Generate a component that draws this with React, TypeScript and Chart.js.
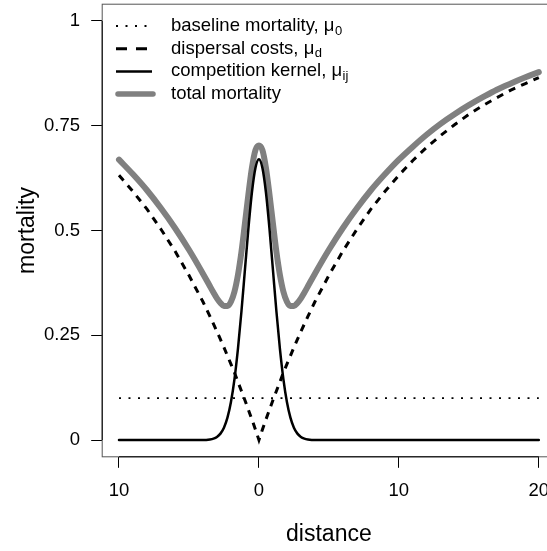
import React, { useEffect, useRef } from "react";
import { Chart, registerables } from "chart.js";

Chart.register(...registerables);

// ---- data ----
const distance = [
  -10, -9, -8, -7, -6, -5, -4,
  -3.5, -3.25, -3, -2.75, -2.5, -2.25, -2, -1.75, -1.5, -1.25, -1, -0.75, -0.5, -0.25,
  0,
  0.25, 0.5, 0.75, 1, 1.25, 1.5, 1.75, 2, 2.25, 2.5, 2.75, 3, 3.25, 3.5,
  4, 5, 6, 7, 8, 9, 10, 11, 12, 13, 14, 15, 16, 17, 18, 19, 20,
];

const dispersalCosts = [
  0.632, 0.593, 0.551, 0.503, 0.451, 0.393, 0.33,
  0.295, 0.277, 0.259, 0.24, 0.221, 0.201, 0.181, 0.161, 0.139, 0.117, 0.095, 0.072, 0.049, 0.025,
  0,
  0.025, 0.049, 0.072, 0.095, 0.117, 0.139, 0.161, 0.181, 0.201, 0.221, 0.24, 0.259, 0.277, 0.295,
  0.33, 0.393, 0.451, 0.503, 0.551, 0.593, 0.632, 0.667, 0.699, 0.727, 0.753, 0.777, 0.798, 0.817, 0.835, 0.85, 0.865,
];

const competitionKernel = [
  0, 0, 0, 0, 0, 0, 0,
  0.0015, 0.0034, 0.0074, 0.0153, 0.0294, 0.0533, 0.0907, 0.1449, 0.2175, 0.3067, 0.4064, 0.5057, 0.5913, 0.6494,
  0.67,
  0.6494, 0.5913, 0.5057, 0.4064, 0.3067, 0.2175, 0.1449, 0.0907, 0.0533, 0.0294, 0.0153, 0.0074, 0.0034, 0.0015,
  0, 0, 0, 0, 0, 0, 0, 0, 0, 0, 0, 0, 0, 0, 0, 0, 0,
];

const totalMortality = [
  0.669, 0.634, 0.596, 0.553, 0.506, 0.454, 0.397,
  0.367, 0.352, 0.338, 0.327, 0.32, 0.32, 0.33, 0.354, 0.394, 0.449, 0.517, 0.587, 0.65, 0.692,
  0.703,
  0.692, 0.65, 0.587, 0.517, 0.449, 0.394, 0.354, 0.33, 0.32, 0.32, 0.327, 0.338, 0.352, 0.367,
  0.397, 0.454, 0.506, 0.553, 0.596, 0.634, 0.669, 0.7, 0.729, 0.755, 0.778, 0.799, 0.818, 0.836, 0.851, 0.865, 0.878,
];

const baselineX = [-10, 20];
const baselineY = [0.1, 0.1];

const xTicks = [-10, 0, 10, 20];
const xTickLabels = ["10", "0", "10", "20"];
const yTicks = [0, 0.25, 0.5, 0.75, 1];
const yTickLabels = ["0", "0.25", "0.5", "0.75", "1"];

const legendLabels = ["baseline mortality, ", "dispersal costs, ", "competition kernel, ", "total mortality"];
const legendSubs = ["0", "d", "ij", ""];

const xTitle = "distance";
const yTitle = "mortality";

// ---- styles ----
const FONT = '"Liberation Sans", Arial, Helvetica, sans-serif';
const GRAY = "#808080";
const CURVE_DASH = [7, 6.5];
const DOT_DASH = [2, 7.5];

const pts = (xs: number[], ys: number[]) => xs.map((x, i) => ({ x, y: ys[i] }));

const decorPlugin = {
  id: "decor",
  afterDraw(chart: any) {
    const { ctx, chartArea: a, scales } = chart;
    const xs = scales.x;
    const ys = scales.y;
    ctx.save();
    // box
    ctx.strokeStyle = "#555";
    ctx.lineWidth = 1;
    ctx.strokeRect(a.left, a.top, a.right - a.left, a.bottom - a.top);
    // axis lines (tick range)
    ctx.strokeStyle = "#000";
    ctx.beginPath();
    ctx.moveTo(xs.getPixelForValue(xTicks[0]), a.bottom);
    ctx.lineTo(xs.getPixelForValue(xTicks[xTicks.length - 1]), a.bottom);
    ctx.moveTo(a.left, ys.getPixelForValue(yTicks[0]));
    ctx.lineTo(a.left, ys.getPixelForValue(yTicks[yTicks.length - 1]));
    ctx.stroke();

    // legend
    const lx0 = 116;
    const lx1 = 152;
    const tx = 171;
    const y0 = 26;
    const dy = 22.7;
    const styles = [
      { color: "#000", width: 1.8, dash: DOT_DASH, cap: "butt" },
      { color: "#000", width: 3, dash: [11, 9], cap: "butt" },
      { color: "#000", width: 2.5, dash: [], cap: "butt" },
      { color: GRAY, width: 5.5, dash: [], cap: "round" },
    ];
    legendLabels.forEach((label, i) => {
      const y = y0 + i * dy;
      const s = styles[i];
      ctx.beginPath();
      ctx.setLineDash(s.dash);
      ctx.lineCap = s.cap;
      ctx.strokeStyle = s.color;
      ctx.lineWidth = s.width;
      ctx.moveTo(i === 3 ? lx0 + 2 : lx0, y);
      ctx.lineTo(i === 3 ? lx1 + 1 : lx1, y);
      ctx.stroke();
      ctx.setLineDash([]);
      ctx.fillStyle = "#000";
      ctx.textBaseline = "middle";
      ctx.textAlign = "left";
      ctx.font = `18.5px ${FONT}`;
      ctx.fillText(label, tx, y);
      const sub = legendSubs[i];
      if (sub) {
        const w = ctx.measureText(label).width;
        ctx.fillText("\u03bc", tx + w, y);
        const w2 = ctx.measureText("\u03bc").width;
        ctx.font = `13px ${FONT}`;
        ctx.fillText(sub, tx + w + w2 + 0.5, y + 5);
      }
    });
    ctx.restore();
  },
};

export default function App() {
  const ref = useRef<HTMLCanvasElement>(null);

  useEffect(() => {
    if (!ref.current) return;
    const chart = new Chart(ref.current, {
      type: "line",
      data: {
        datasets: [
          {
            label: "competition kernel",
            data: pts(distance, competitionKernel),
            borderColor: "#000",
            borderWidth: 2.5,
            pointRadius: 0,
            cubicInterpolationMode: "monotone",
            borderCapStyle: "round",
            borderJoinStyle: "round",
            fill: false,
          },
          {
            label: "dispersal costs",
            data: pts(distance, dispersalCosts),
            borderColor: "#000",
            borderWidth: 3,
            borderDash: CURVE_DASH,
            pointRadius: 0,
            tension: 0,
            fill: false,
          },
          {
            label: "baseline mortality",
            data: pts(baselineX, baselineY),
            borderColor: "#000",
            borderWidth: 1.8,
            borderDash: DOT_DASH,
            pointRadius: 0,
            tension: 0,
            fill: false,
          },
          {
            label: "total mortality",
            data: pts(distance, totalMortality),
            borderColor: GRAY,
            borderWidth: 6,
            pointRadius: 0,
            cubicInterpolationMode: "monotone",
            borderCapStyle: "round",
            borderJoinStyle: "round",
            fill: false,
          },
        ],
      },
      options: {
        animation: false,
        responsive: false,
        maintainAspectRatio: false,
        events: [],
        layout: { padding: { top: 4.2, right: 4.4, left: 0, bottom: 0 } },
        plugins: { legend: { display: false }, tooltip: { enabled: false } },
        scales: {
          x: {
            type: "linear",
            min: -11.2,
            max: 21.2,
            afterBuildTicks: (scale: any) => {
              scale.ticks = xTicks.map((v) => ({ value: v }));
            },
            afterFit: (scale: any) => {
              scale.height = 94.2;
              scale.paddingLeft = 0;
              scale.paddingRight = 0;
              scale.paddingTop = 0;
              scale.paddingBottom = 0;
            },
            ticks: {
              autoSkip: false,
              maxRotation: 0,
              padding: 11.6,
              color: "#000",
              font: { family: FONT, size: 18.5 },
              callback: (_v: any, i: number) => xTickLabels[i],
            },
            grid: { drawOnChartArea: false, drawTicks: true, tickLength: 11, color: "#000", lineWidth: 1 },
            border: { display: false },
            title: {
              display: true,
              text: xTitle,
              color: "#000",
              font: { family: FONT, size: 23 },
              padding: { top: 0, bottom: 2.2 },
            },
          },
          y: {
            type: "linear",
            min: -0.04,
            max: 1.04,
            afterBuildTicks: (scale: any) => {
              scale.ticks = yTicks.map((v) => ({ value: v }));
            },
            afterFit: (scale: any) => {
              scale.width = 102.2;
              scale.paddingLeft = 0;
              scale.paddingRight = 0;
              scale.paddingTop = 0;
              scale.paddingBottom = 0;
            },
            ticks: {
              autoSkip: false,
              padding: 11.2,
              color: "#000",
              font: { family: FONT, size: 18.5 },
              callback: (_v: any, i: number) => yTickLabels[i],
            },
            grid: { drawOnChartArea: false, drawTicks: true, tickLength: 11, color: "#000", lineWidth: 1 },
            border: { display: false },
            title: {
              display: true,
              text: yTitle,
              color: "#000",
              font: { family: FONT, size: 23 },
              padding: { top: 14, bottom: 0 },
            },
          },
        },
      },
      plugins: [decorPlugin],
    } as any);
    return () => chart.destroy();
  }, []);

  return (
    <div
      style={{
        position: "fixed",
        left: 0,
        top: 0,
        width: 547,
        height: 551,
        overflow: "hidden",
        background: "#fff",
      }}
    >
      <canvas ref={ref} width={560} height={551} style={{ display: "block" }} />
    </div>
  );
}
